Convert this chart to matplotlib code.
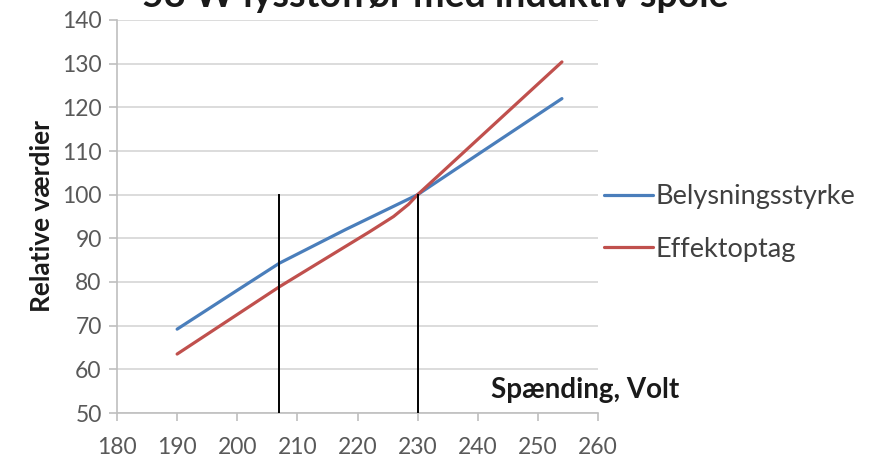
import matplotlib
matplotlib.use("Agg")
import matplotlib.pyplot as plt

plt.rcParams["font.family"] = ["Lato", "DejaVu Sans"]

# spænding (V) og relative værdier (%)
volt_lys = [190, 200, 207, 218, 230, 240, 254]
belysning = [69.2, 78.1, 84.3, 92.0, 100, 109.2, 122.0]

volt_eff = [190, 207, 222, 226, 228.5, 230, 254]
effekt = [63.5, 78.9, 91.5, 95.0, 97.8, 100, 130.4]

markering_volt = [207, 230]
markering_fra = 50
markering_til = 100

x_ticks = list(range(180, 261, 10))
y_ticks = list(range(50, 141, 10))

fig = plt.figure(figsize=(8.78, 4.66), dpi=100)
ax = fig.add_axes([117 / 878, 1 - 413 / 466, (598 - 117) / 878, (413 - 20) / 466])

ax.plot(volt_lys, belysning, color="#4a7ebb", lw=2.3, label="Belysningsstyrke",
        solid_capstyle="round", solid_joinstyle="round", zorder=3)
ax.plot(volt_eff, effekt, color="#c0504d", lw=2.3, label="Effektoptag",
        solid_capstyle="round", solid_joinstyle="round", zorder=3)

for v in markering_volt:
    ax.plot([v, v], [markering_fra, markering_til], color="black", lw=1.4, zorder=4)

ax.set_xlim(180, 260)
ax.set_ylim(50, 140)
ax.set_xticks(x_ticks)
ax.set_yticks(y_ticks)
ax.yaxis.grid(True, color="#d9d9d9", lw=1.3)
ax.set_axisbelow(True)
for side in ["top", "right"]:
    ax.spines[side].set_visible(False)
for side in ["left", "bottom"]:
    ax.spines[side].set_color("#bfbfbf")
    ax.spines[side].set_linewidth(1.2)
ax.tick_params(axis="both", colors="#bfbfbf", length=6, width=1.2,
               labelcolor="#595959", labelsize=16.5)
ax.tick_params(axis="x", pad=11)
ax.tick_params(axis="y", pad=5)

ax.set_ylabel("Relative værdier", fontsize=19, fontweight="bold", color="#1a1a1a", labelpad=6)
fig.text(585 / 878, 1 - 390 / 466, "Spænding, Volt", fontsize=20, fontweight="bold",
         color="#1a1a1a", ha="center", va="center")

fig.text(435 / 878, 1 - 7 / 466, "58 W lysstofrør med induktiv spole", fontsize=27,
         fontweight="bold", color="#1a1a1a", ha="center", va="baseline")

leg = ax.legend(loc="center left", bbox_to_anchor=(604 / 878, 1 - 223 / 466),
                bbox_transform=fig.transFigure, frameon=False, fontsize=19.5,
                handlelength=1.8, handletextpad=0.1, labelspacing=1.0, borderaxespad=0,
                borderpad=0)
for t in leg.get_texts():
    t.set_color("#404040")

fig.savefig("out.png", dpi=100)
